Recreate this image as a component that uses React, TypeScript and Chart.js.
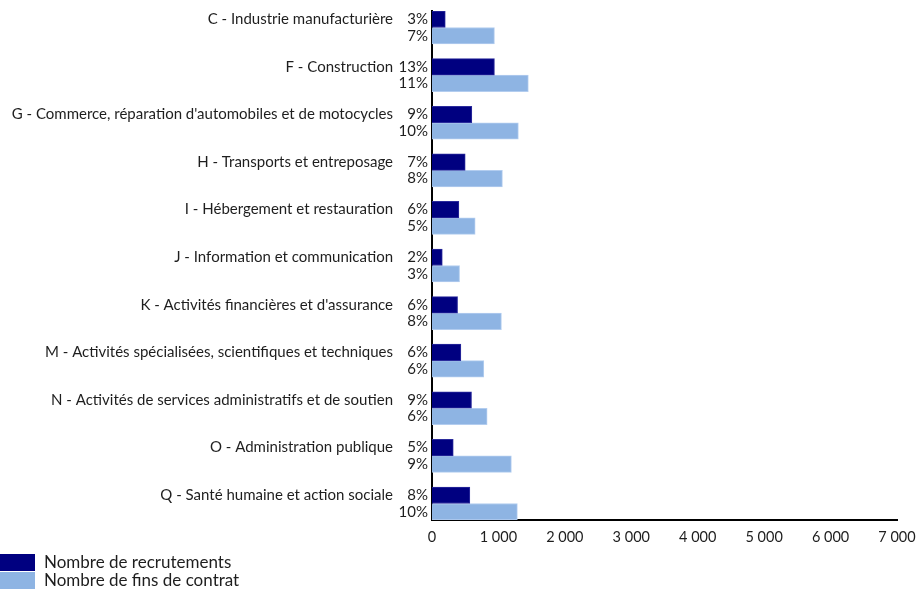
import React, { useEffect, useRef } from "react";
import { Chart, registerables } from "chart.js";

Chart.register(...registerables);

const categories = [
  "C - Industrie manufacturière",
  "F - Construction",
  "G - Commerce, réparation d'automobiles et de motocycles",
  "H - Transports et entreposage",
  "I - Hébergement et restauration",
  "J - Information et communication",
  "K - Activités financières et d'assurance",
  "M - Activités spécialisées, scientifiques et techniques",
  "N - Activités de services administratifs et de soutien",
  "O - Administration publique",
  "Q - Santé humaine et action sociale",
];

const recrutements = [200, 940, 600, 500, 405, 155, 385, 435, 595, 320, 570];
const finsContrat = [940, 1450, 1300, 1060, 650, 415, 1045, 780, 830, 1195, 1285];

const recrutementsPct = ["3%", "13%", "9%", "7%", "6%", "2%", "6%", "6%", "9%", "5%", "8%"];
const finsContratPct = ["7%", "11%", "10%", "8%", "5%", "3%", "8%", "6%", "6%", "9%", "10%"];

const seriesNames = ["Nombre de recrutements", "Nombre de fins de contrat"];
const seriesColors = ["#000080", "#8EB4E3"];

const FONT = "Lato, 'Open Sans', sans-serif";
const TEXT = "#1e1e1e";

const formatThousands = (v: number) =>
  String(v).replace(/\B(?=(\d{3})+(?!\d))/g, " ");

const labelPlugin = {
  id: "barLabels",
  afterDatasetsDraw(chart: any) {
    const { ctx, chartArea } = chart;
    const pcts = [recrutementsPct, finsContratPct];
    ctx.save();
    ctx.fillStyle = TEXT;
    ctx.textAlign = "right";
    ctx.textBaseline = "middle";
    ctx.font = `15px ${FONT}`;
    chart.data.datasets.forEach((_: any, di: number) => {
      const meta = chart.getDatasetMeta(di);
      meta.data.forEach((el: any, i: number) => {
        ctx.fillText(pcts[di][i], chartArea.left - 4, el.y);
        if (di === 0) {
          ctx.fillText(categories[i], chartArea.left - 39, el.y);
        }
      });
    });
    ctx.restore();
  },
};

export default function App() {
  const ref = useRef<HTMLCanvasElement | null>(null);

  useEffect(() => {
    if (!ref.current) return;
    const chart = new Chart(ref.current, {
      type: "bar",
      data: {
        datasets: [
          {
            label: seriesNames[0],
            data: recrutements.map((v, i) => ({ x: v, y: i })),
            backgroundColor: seriesColors[0],
            borderColor: "#2b2b9c",
            borderWidth: 1,
            barThickness: 16.5,
          },
          {
            label: seriesNames[1],
            data: finsContrat.map((v, i) => ({ x: v, y: i })),
            backgroundColor: seriesColors[1],
            borderColor: "#b3cdef",
            borderWidth: 1,
            barThickness: 16.5,
          },
        ],
      },
      options: {
        indexAxis: "y",
        animation: false,
        responsive: true,
        maintainAspectRatio: false,
        layout: { padding: { top: 11, right: 20, left: 0, bottom: 0 } },
        plugins: {
          legend: { display: false },
          tooltip: { enabled: false },
        },
        scales: {
          y: {
            type: "linear",
            reverse: true,
            offset: false,
            min: -0.347,
            max: 10.347,
            ticks: { display: false },
            grid: { display: false, drawTicks: false, offset: false },
            border: { display: true, color: "#000", width: 2 },
            afterFit(scale: any) {
              scale.width = 432;
              scale.paddingTop = 0;
              scale.paddingBottom = 0;
            },
          },
          x: {
            type: "linear",
            min: 0,
            max: 7000,
            ticks: {
              stepSize: 1000,
              padding: 9,
              color: TEXT,
              font: { family: FONT, size: 14.5 },
              maxRotation: 0,
              callback: (v: any) => formatThousands(Number(v)),
            },
            grid: { display: false, drawTicks: false },
            border: { display: true, color: "#000", width: 2 },
            afterFit(scale: any) {
              scale.height = 73;
              scale.paddingLeft = 0;
              scale.paddingRight = 0;
            },
          },
        },
      },
      plugins: [labelPlugin],
    });
    return () => chart.destroy();
  }, []);

  return (
    <div style={{ position: "fixed", left: 0, top: 0, width: 917, height: 593, background: "#fff" }}>
      <canvas ref={ref} />
      <div style={{ position: "absolute", left: 0, top: 553, fontFamily: FONT, fontSize: 17, color: TEXT }}>
        {seriesNames.map((n, i) => (
          <div key={n} style={{ display: "flex", alignItems: "center", height: 18 }}>
            <div style={{ width: 35, height: 17, background: seriesColors[i], marginRight: 9 }} />
            <span style={{ lineHeight: "18px" }}>{n}</span>
          </div>
        ))}
      </div>
    </div>
  );
}
